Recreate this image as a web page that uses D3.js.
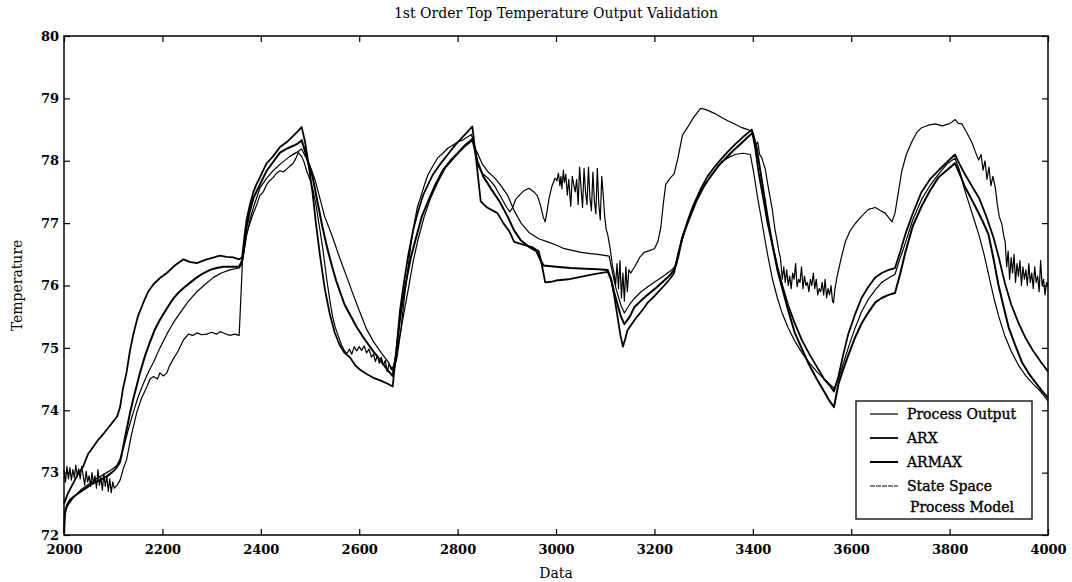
<!DOCTYPE html>
<head>
<meta charset="UTF-8">
<script src="https://cdn.jsdelivr.net/npm/d3@7"></script>
<style>
body { margin: 0; background: #fff; }
svg { display: block; font-family: "DejaVu Serif", "Liberation Serif", serif; }
.frame { fill: none; stroke: #000; stroke-width: 1.5px; }
.axis path { display: none; }
.axis line { stroke: #000; stroke-width: 1.2px; }
.axis text { font-family: "DejaVu Serif", serif; font-size: 13px; font-weight: bold; fill: #000; }
.series { fill: none; stroke: #000; stroke-linejoin: round; }
.lab { font-size: 14px; fill: #000; }
.leg { font-size: 14px; fill: #000; stroke: #000; stroke-width: 0.35px; }
</style>
</head>
<body>
<script>

// ---- data ----
var title = "1st Order Top Temperature Output Validation";
var xTicks = [2000, 2200, 2400, 2600, 2800, 3000, 3200, 3400, 3600, 3800, 4000];
var yTicks = [72, 73, 74, 75, 76, 77, 78, 79, 80];
var legendLabels = ["Process Output", "ARX", "ARMAX", "State Space"];

var processOutput = [
 [2000,73.05],[2003,72.85],[2006,73.1],[2009,72.9],[2012,73.08],[2015,72.88],[2018,73.05],[2021,72.92],[2024,73.12],[2027,72.95],
 [2030,73.06],[2033,72.9],[2036,73.1],[2039,72.95],[2042,72.8],[2045,73.02],[2048,72.85],[2051,72.95],[2054,72.78],[2057,73.0],
 [2060,72.82],[2063,72.95],[2066,72.75],[2069,73.05],[2072,72.8],[2075,72.92],[2078,72.72],[2081,72.98],[2084,72.78],[2087,72.95],
 [2090,72.7],[2093,72.9],[2096,72.68],[2099,72.85],[2102,72.75],[2108,72.8],[2114,72.88],[2120,73.05],[2127,73.2],[2137,73.6],
 [2148,73.97],[2158,74.2],[2168,74.37],[2175,74.5],[2182,74.54],[2190,74.5],[2195,74.6],[2202,74.55],[2209,74.6],[2215,74.72],
 [2222,74.82],[2232,74.95],[2243,75.13],[2253,75.22],[2262,75.2],[2270,75.24],[2280,75.21],[2290,75.22],[2300,75.25],[2310,75.22],
 [2317,75.26],[2327,75.23],[2337,75.2],[2347,75.22],[2356,75.2],[2360,75.9],[2363,76.45],[2371,76.82],[2378,77.0],[2385,77.16],
 [2392,77.3],[2398,77.44],[2405,77.5],[2412,77.62],[2418,77.68],[2425,77.73],[2432,77.8],[2439,77.84],[2446,77.82],[2453,77.87],
 [2460,77.92],[2466,77.96],[2472,78.05],[2476,78.13],[2480,78.1],[2483,78.07],[2488,77.98],[2493,77.84],[2500,77.7],[2507,77.5],
 [2512,77.3],[2517,77.05],[2522,76.8],[2527,76.53],[2534,76.1],[2541,75.73],[2546,75.5],[2551,75.34],[2557,75.2],[2564,75.05],
 [2570,74.95],[2575,74.91],[2580,74.98],[2585,74.9],[2590,75.02],[2595,74.95],[2600,75.02],[2605,74.96],[2610,75.03],[2615,74.92],
 [2620,74.98],[2625,74.85],[2629,74.9],[2633,74.78],[2637,74.88],[2641,74.75],[2645,74.85],[2649,74.72],[2653,74.8],[2657,74.62],
 [2661,74.75],[2665,74.65],[2669,74.7],[2672,74.78],[2678,75.0],[2685,75.3],[2691,75.75],[2698,76.2],[2705,76.65],[2712,77.0],
 [2718,77.25],[2725,77.42],[2732,77.6],[2740,77.78],[2750,77.92],[2760,78.05],[2770,78.12],[2780,78.2],[2790,78.25],[2800,78.3],
 [2810,78.33],[2820,78.38],[2828,78.42],[2833,78.3],[2840,77.95],[2850,77.8],[2862,77.72],[2875,77.6],[2888,77.42],[2900,77.25],
 [2906,77.18],[2912,77.25],[2918,77.38],[2925,77.44],[2935,77.52],[2945,77.56],[2955,77.5],[2962,77.44],[2968,77.3],[2974,77.1],
 [2978,77.02],[2982,77.2],[2986,77.4],[2992,77.6],[2998,77.72],[3002,77.68],[3005,77.8],[3008,77.6],[3010,77.75],[3012,77.55],
 [3015,77.85],[3017,77.65],[3020,77.78],[3023,77.45],[3026,77.7],[3030,77.27],[3033,77.75],[3036,77.62],[3039,77.5],[3042,77.7],
 [3045,77.3],[3048,77.9],[3051,77.55],[3054,77.25],[3057,77.88],[3060,77.5],[3063,77.3],[3066,77.9],[3069,77.4],[3072,77.2],
 [3075,77.82],[3078,77.35],[3081,77.15],[3084,77.88],[3087,77.3],[3090,77.05],[3093,77.75],[3096,77.45],[3099,77.1],[3102,76.9],
 [3105,76.82],[3110,76.6],[3115,76.3],[3118,76.2],[3121,76.0],[3124,76.35],[3127,75.95],[3130,76.4],[3133,75.8],[3136,76.2],
 [3139,75.75],[3142,76.3],[3145,75.9],[3148,76.25],[3152,76.2],[3160,76.3],[3170,76.45],[3179,76.53],[3190,76.56],[3200,76.59],
 [3207,76.7],[3213,76.93],[3218,77.3],[3223,77.62],[3232,77.72],[3240,77.79],[3248,78.05],[3257,78.41],[3267,78.53],[3280,78.7],
 [3294,78.84],[3305,78.82],[3322,78.76],[3335,78.7],[3349,78.64],[3365,78.58],[3378,78.53],[3390,78.5],[3398,78.47],[3402,78.35],
 [3406,78.25],[3410,78.3],[3414,78.1],[3418,78.05],[3422,77.95],[3425,77.88],[3432,77.55],[3439,77.25],[3445,76.9],[3449,76.73],
 [3453,76.55],[3456,76.45],[3460,76.1],[3463,76.3],[3466,76.05],[3469,76.25],[3472,76.0],[3475,76.15],[3478,75.95],[3481,76.2],
 [3484,76.1],[3487,76.35],[3490,75.98],[3493,76.1],[3496,76.05],[3499,76.3],[3502,75.95],[3505,76.15],[3508,76.0],[3511,76.05],
 [3514,75.9],[3517,76.1],[3520,76.0],[3523,76.2],[3526,75.95],[3529,76.1],[3532,75.85],[3535,75.95],[3538,75.9],[3541,76.05],
 [3544,75.85],[3547,76.1],[3550,75.8],[3553,75.95],[3556,75.85],[3559,76.0],[3562,75.75],[3564,75.72],[3567,75.95],[3571,76.13],
 [3580,76.45],[3588,76.7],[3598,76.88],[3608,76.99],[3620,77.1],[3635,77.22],[3649,77.25],[3660,77.2],[3669,77.16],[3677,77.08],
 [3683,77.02],[3689,77.16],[3696,77.5],[3703,77.84],[3712,78.1],[3723,78.3],[3733,78.45],[3743,78.53],[3757,78.57],[3771,78.59],
 [3785,78.56],[3798,78.59],[3805,78.62],[3811,78.66],[3818,78.6],[3825,78.59],[3835,78.45],[3845,78.3],[3852,78.15],[3859,78.01],
 [3864,78.1],[3868,77.85],[3872,78.0],[3876,77.7],[3880,77.9],[3884,77.6],[3888,77.75],[3893,77.56],[3897,77.3],[3901,77.1],
 [3906,76.99],[3910,76.8],[3913,76.7],[3916,76.3],[3919,76.55],[3922,76.1],[3925,76.45],[3928,76.2],[3931,76.5],[3934,76.05],
 [3937,76.35],[3940,76.15],[3943,76.4],[3946,76.0],[3949,76.3],[3952,76.1],[3955,76.25],[3958,76.0],[3961,76.35],[3964,76.05],
 [3967,76.2],[3970,75.95],[3973,76.3],[3976,76.05],[3979,76.15],[3982,75.9],[3985,76.4],[3988,76.0],[3991,76.1],[3994,75.85],
 [3997,76.05],[4000,76.0]
];

var arx = [
 [2000,72.5],[2008,72.67],[2018,72.82],[2028,72.97],[2039,73.1],[2049,73.3],[2060,73.42],[2070,73.53],[2080,73.62],[2090,73.72],
 [2100,73.82],[2108,73.9],[2114,74.05],[2120,74.35],[2127,74.6],[2134,74.95],[2141,75.22],[2150,75.5],[2161,75.72],[2171,75.9],
 [2182,76.02],[2195,76.12],[2209,76.2],[2225,76.32],[2243,76.42],[2255,76.38],[2270,76.36],[2290,76.42],[2305,76.45],[2317,76.48],
 [2330,76.46],[2344,76.45],[2356,76.42],[2362,76.45],[2367,76.8],[2371,77.05],[2378,77.3],[2385,77.5],[2391,77.62],[2398,77.73],
 [2405,77.85],[2412,77.96],[2425,78.07],[2439,78.22],[2453,78.3],[2466,78.4],[2476,78.48],[2483,78.54],[2490,78.3],[2497,77.95],
 [2505,77.5],[2512,77.0],[2520,76.5],[2530,75.95],[2540,75.55],[2550,75.25],[2560,75.05],[2570,74.92],[2581,74.85],[2592,74.72],
 [2602,74.65],[2615,74.58],[2629,74.52],[2645,74.47],[2659,74.42],[2668,74.38],[2676,75.0],[2683,75.6],[2690,76.0],[2700,76.5],
 [2710,76.9],[2720,77.2],[2730,77.45],[2740,77.62],[2750,77.78],[2765,77.95],[2780,78.1],[2795,78.25],[2810,78.38],[2822,78.48],
 [2830,78.55],[2838,78.0],[2847,77.35],[2860,77.25],[2881,77.16],[2893,77.0],[2905,76.87],[2915,76.7],[2935,76.65],[2950,76.62],
 [2965,76.55],[2972,76.3],[2978,76.05],[2990,76.06],[3000,76.08],[3025,76.1],[3050,76.14],[3075,76.18],[3105,76.22],[3112,76.1],
 [3118,75.85],[3125,75.5],[3131,75.2],[3136,75.02],[3141,75.15],[3145,75.28],[3160,75.45],[3175,75.6],[3186,75.72],[3200,75.83],
 [3220,76.0],[3233,76.12],[3240,76.2],[3248,76.5],[3258,76.8],[3268,77.05],[3280,77.3],[3295,77.56],[3308,77.75],[3322,77.9],
 [3336,78.03],[3350,78.15],[3365,78.27],[3380,78.38],[3398,78.5],[3405,78.2],[3412,77.8],[3420,77.45],[3430,77.0],[3440,76.65],
 [3450,76.3],[3460,76.0],[3472,75.68],[3485,75.4],[3500,75.12],[3515,74.9],[3530,74.7],[3545,74.5],[3556,74.4],[3565,74.3],
 [3574,74.54],[3584,74.9],[3594,75.22],[3607,75.52],[3621,75.8],[3635,75.98],[3649,76.13],[3662,76.2],[3676,76.25],[3689,76.28],
 [3700,76.55],[3710,76.82],[3725,77.15],[3743,77.5],[3760,77.7],[3777,77.84],[3795,77.98],[3811,78.1],[3820,77.95],[3830,77.8],
 [3845,77.6],[3860,77.4],[3875,77.1],[3890,76.75],[3900,76.45],[3912,76.05],[3925,75.7],[3940,75.4],[3955,75.15],[3970,74.95],
 [3985,74.78],[4000,74.62]
];

var armax = [
 [2000,72.03],[2002,72.35],[2006,72.48],[2012,72.56],[2022,72.63],[2033,72.69],[2046,72.76],[2059,72.83],[2073,72.88],[2087,72.94],
 [2097,73.0],[2104,73.05],[2110,73.12],[2114,73.17],[2120,73.4],[2127,73.68],[2134,73.95],[2141,74.19],[2148,74.4],[2154,74.59],
 [2165,74.88],[2175,75.1],[2185,75.3],[2195,75.45],[2209,75.63],[2222,75.79],[2232,75.88],[2243,75.96],[2257,76.05],[2270,76.13],
 [2284,76.2],[2297,76.25],[2310,76.28],[2324,76.3],[2340,76.3],[2356,76.3],[2362,76.4],[2366,76.6],[2371,76.93],[2378,77.2],
 [2385,77.4],[2391,77.5],[2400,77.65],[2412,77.84],[2425,77.98],[2439,78.13],[2452,78.19],[2466,78.24],[2476,78.28],[2483,78.33],
 [2490,78.15],[2497,77.95],[2505,77.75],[2515,77.35],[2525,76.95],[2535,76.6],[2545,76.3],[2553,76.08],[2561,75.9],[2570,75.7],
 [2580,75.55],[2595,75.33],[2610,75.15],[2629,74.94],[2645,74.78],[2659,74.63],[2668,74.55],[2675,74.9],[2682,75.4],[2688,75.75],
 [2695,76.05],[2705,76.45],[2715,76.75],[2727,77.1],[2740,77.35],[2755,77.62],[2770,77.85],[2785,78.0],[2800,78.12],[2815,78.25],
 [2830,78.35],[2840,78.0],[2852,77.75],[2868,77.55],[2885,77.35],[2902,77.1],[2915,76.88],[2929,76.72],[2945,76.62],[2960,76.55],
 [2969,76.4],[2975,76.32],[3000,76.3],[3030,76.28],[3060,76.27],[3085,76.26],[3105,76.25],[3112,76.1],[3118,75.9],[3125,75.7],
 [3132,75.5],[3139,75.38],[3150,75.5],[3159,75.65],[3172,75.75],[3186,75.85],[3203,75.96],[3220,76.08],[3232,76.17],[3240,76.25],
 [3248,76.45],[3256,76.75],[3270,77.05],[3285,77.35],[3300,77.58],[3315,77.76],[3330,77.92],[3345,78.04],[3360,78.16],[3375,78.27],
 [3390,78.38],[3400,78.45],[3408,78.2],[3415,77.85],[3422,77.5],[3430,77.1],[3440,76.65],[3450,76.25],[3460,75.95],[3472,75.6],
 [3485,75.25],[3500,74.98],[3515,74.72],[3530,74.5],[3545,74.3],[3556,74.15],[3565,74.05],[3574,74.42],[3584,74.66],[3594,74.88],
 [3607,75.15],[3621,75.39],[3635,75.57],[3649,75.73],[3662,75.8],[3676,75.85],[3689,75.88],[3700,76.2],[3710,76.53],[3725,76.95],
 [3743,77.27],[3760,77.52],[3777,77.73],[3795,77.85],[3811,77.96],[3820,77.8],[3830,77.6],[3840,77.45],[3852,77.27],[3866,77.05],
 [3879,76.82],[3890,76.4],[3899,76.02],[3910,75.65],[3920,75.33],[3933,75.05],[3947,74.77],[3960,74.6],[3974,74.45],[3987,74.32],
 [4000,74.2]
];

var stateSpace = [
 [2000,72.37],[2010,72.5],[2019,72.6],[2035,72.73],[2053,72.83],[2070,72.92],[2087,73.0],[2097,73.05],[2107,73.11],[2114,73.22],
 [2121,73.4],[2131,73.7],[2141,73.97],[2151,74.22],[2161,74.42],[2172,74.62],[2182,74.77],[2195,75.0],[2209,75.22],[2222,75.4],
 [2236,75.56],[2253,75.75],[2270,75.9],[2287,76.02],[2304,76.13],[2320,76.2],[2337,76.25],[2356,76.28],[2362,76.35],[2367,76.6],
 [2371,76.8],[2378,77.05],[2385,77.25],[2398,77.56],[2412,77.72],[2425,77.84],[2440,77.95],[2459,78.07],[2472,78.13],[2483,78.19],
 [2492,78.05],[2500,77.92],[2510,77.7],[2520,77.4],[2530,77.1],[2540,76.9],[2547,76.75],[2560,76.45],[2575,76.13],[2588,75.85],
 [2602,75.56],[2615,75.3],[2629,75.1],[2645,74.92],[2659,74.77],[2670,74.62],[2677,74.85],[2685,75.3],[2693,75.65],[2700,75.95],
 [2710,76.4],[2720,76.75],[2732,77.1],[2745,77.4],[2760,77.66],[2775,77.88],[2790,78.02],[2805,78.15],[2818,78.25],[2830,78.32],
 [2837,78.18],[2850,77.95],[2862,77.82],[2875,77.73],[2888,77.6],[2902,77.44],[2915,77.2],[2929,77.0],[2945,76.85],[2965,76.75],
 [2983,76.7],[3000,76.65],[3017,76.59],[3035,76.56],[3051,76.53],[3070,76.51],[3085,76.5],[3108,76.47],[3115,76.2],[3122,75.95],
 [3132,75.68],[3139,75.56],[3150,75.7],[3160,75.8],[3173,75.9],[3190,76.0],[3205,76.08],[3220,76.16],[3235,76.25],[3245,76.33],
 [3252,76.6],[3262,76.88],[3275,77.2],[3290,77.45],[3305,77.65],[3322,77.82],[3337,77.98],[3350,78.05],[3364,78.1],[3380,78.12],
 [3395,78.1],[3402,77.8],[3410,77.4],[3420,76.95],[3430,76.5],[3440,76.1],[3450,75.8],[3460,75.55],[3472,75.32],[3486,75.1],
 [3500,74.92],[3515,74.76],[3530,74.62],[3545,74.5],[3556,74.42],[3565,74.35],[3574,74.5],[3584,74.75],[3594,75.0],[3607,75.3],
 [3621,75.58],[3635,75.78],[3649,75.93],[3662,76.05],[3676,76.12],[3689,76.18],[3700,76.45],[3710,76.68],[3725,77.05],[3743,77.38],
 [3760,77.6],[3777,77.78],[3795,77.95],[3811,78.04],[3820,77.85],[3830,77.55],[3840,77.3],[3850,77.05],[3860,76.8],[3870,76.5],
 [3880,76.15],[3890,75.8],[3900,75.5],[3912,75.2],[3925,74.95],[3940,74.72],[3955,74.55],[3970,74.42],[3985,74.3],[4000,74.15]
];

// ---- layout ----
var width = 1072, height = 582;
var margin = {top: 36, right: 24, bottom: 47, left: 64};

var svg = d3.select("body").append("svg")
    .attr("width", width)
    .attr("height", height);

var x = d3.scaleLinear().domain([2000, 4000]).range([margin.left, width - margin.right]);
var y = d3.scaleLinear().domain([72, 80]).range([height - margin.bottom, margin.top]);

var line = d3.line().x(d => x(d[0])).y(d => y(d[1]));

// series, all black as in the scan
var series = [
    {data: processOutput, w: 1.2},
    {data: arx, w: 1.8},
    {data: armax, w: 2.0},
    {data: stateSpace, w: 1.2}
];

svg.append("g").selectAll("path")
    .data(series)
  .enter().append("path")
    .attr("class", "series")
    .attr("stroke-width", d => d.w)
    .attr("d", d => line(d.data));

// inward ticks on all four sides
svg.append("g").attr("class", "axis")
    .attr("transform", "translate(0," + y(72) + ")")
    .call(d3.axisBottom(x).tickValues(xTicks).tickSize(-6).tickPadding(10).tickFormat(d3.format("d")));
svg.append("g").attr("class", "axis")
    .attr("transform", "translate(0," + y(80) + ")")
    .call(d3.axisTop(x).tickValues(xTicks).tickSize(-6).tickFormat(""));
svg.append("g").attr("class", "axis")
    .attr("transform", "translate(" + x(2000) + ",0)")
    .call(d3.axisLeft(y).tickValues(yTicks).tickSize(-6).tickPadding(5).tickFormat(d3.format("d")));
svg.append("g").attr("class", "axis")
    .attr("transform", "translate(" + x(4000) + ",0)")
    .call(d3.axisRight(y).tickValues(yTicks).tickSize(-6).tickFormat(""));

svg.append("rect")
    .attr("class", "frame")
    .attr("x", x(2000)).attr("y", y(80))
    .attr("width", x(4000) - x(2000))
    .attr("height", y(72) - y(80));

// titles
svg.append("text")
    .attr("class", "lab")
    .attr("x", (x(2000) + x(4000)) / 2).attr("y", 18)
    .attr("text-anchor", "middle")
    .text(title);

svg.append("text")
    .attr("class", "lab")
    .attr("x", (x(2000) + x(4000)) / 2).attr("y", 578)
    .attr("text-anchor", "middle")
    .text("Data");

svg.append("text")
    .attr("class", "lab")
    .attr("transform", "translate(22," + y(76) + ") rotate(-90)")
    .attr("text-anchor", "middle")
    .text("Temperature");

// legend
var lg = svg.append("g").attr("transform", "translate(856,401)");
lg.append("rect")
    .attr("width", 176).attr("height", 118)
    .attr("fill", "#fff").attr("stroke", "#000").attr("stroke-width", 1.3);

lg.selectAll(".item")
    .data(legendLabels)
  .enter().append("g")
    .attr("transform", (d, i) => "translate(0," + (13 + i * 24) + ")")
    .each(function(d, i) {
        var g = d3.select(this);
        g.append("line")
            .attr("x1", 14).attr("x2", 42)
            .attr("stroke", "#000")
            .attr("stroke-width", series[i].w)
            .attr("stroke-dasharray", i === 3 ? "5,1" : null);
        g.append("text")
            .attr("class", "leg")
            .attr("x", 51).attr("y", 5)
            .text(d);
    });

lg.append("text")
    .attr("class", "leg")
    .attr("x", 54).attr("y", 111)
    .text("Process Model");

</script>
</body>
